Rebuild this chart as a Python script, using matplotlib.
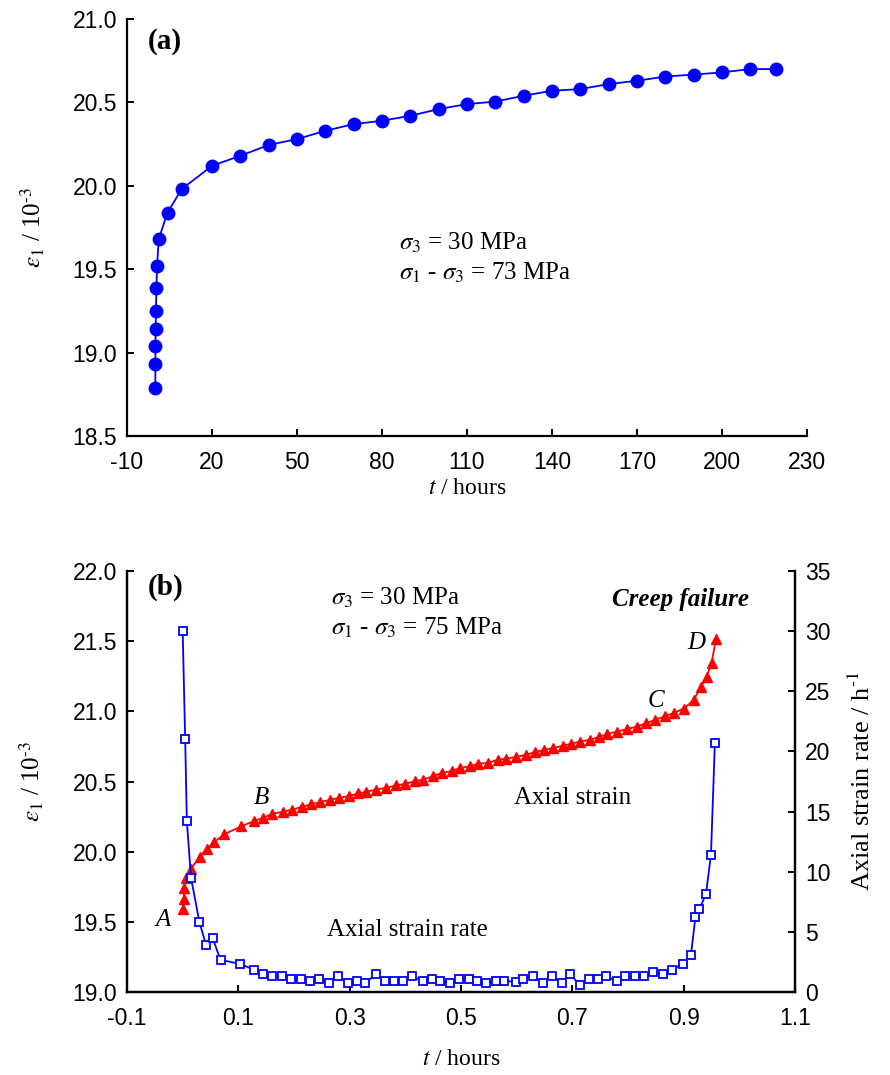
import matplotlib
matplotlib.use('Agg')
import matplotlib.pyplot as plt

plt.rcParams['font.family'] = 'serif'
plt.rcParams['font.serif'] = ['Liberation Serif', 'DejaVu Serif']
plt.rcParams['mathtext.fontset'] = 'stix'

# (a) creep test, sigma1 - sigma3 = 73 MPa
t_a = [0, 0.02, 0.05, 0.1, 0.2, 0.4, 0.6, 1.2, 4.3, 9.3, 20, 30, 40, 50, 60, 70,
       80, 90, 100, 110, 120, 130, 140, 150, 160, 170, 180, 190, 200, 210, 219]
eps_a = [18.79, 18.93, 19.04, 19.14, 19.25, 19.39, 19.52, 19.68, 19.84, 19.98,
         20.12, 20.18, 20.245, 20.28, 20.33, 20.37, 20.39, 20.42, 20.46, 20.49,
         20.505, 20.54, 20.57, 20.58, 20.61, 20.63, 20.655, 20.667, 20.68, 20.70, 20.70]

# (b) creep failure, sigma1 - sigma3 = 75 MPa
t_b = [0.0, 0.002, 0.003, 0.006, 0.015, 0.031, 0.043, 0.057, 0.075, 0.105,
       0.129, 0.144, 0.161, 0.180, 0.197, 0.215, 0.231, 0.247, 0.264, 0.281,
       0.298, 0.315, 0.330, 0.348, 0.365, 0.384, 0.399, 0.417, 0.432, 0.450,
       0.465, 0.483, 0.498, 0.516, 0.531, 0.548, 0.566, 0.581, 0.599, 0.616,
       0.632, 0.649, 0.665, 0.683, 0.698, 0.714, 0.731, 0.747, 0.763, 0.781,
       0.798, 0.816, 0.832, 0.849, 0.867, 0.883, 0.900, 0.918, 0.931, 0.941,
       0.950, 0.958]
eps_b = [19.59, 19.665, 19.74, 19.81, 19.88, 19.965, 20.02, 20.07, 20.125, 20.18,
         20.22, 20.24, 20.27, 20.285, 20.30, 20.32, 20.337, 20.354, 20.368, 20.384,
         20.396, 20.415, 20.427, 20.443, 20.455, 20.472, 20.483, 20.502, 20.514, 20.538,
         20.561, 20.573, 20.597, 20.608, 20.627, 20.632, 20.656, 20.663, 20.675, 20.69,
         20.708, 20.726, 20.738, 20.755, 20.769, 20.785, 20.797, 20.816, 20.84, 20.856,
         20.873, 20.892, 20.915, 20.939, 20.967, 20.99, 21.02, 21.08, 21.175, 21.245,
         21.344, 21.517]

t_r = [0.0, 0.0045, 0.0075, 0.015, 0.030, 0.042, 0.054, 0.068, 0.103, 0.129,
       0.145, 0.161, 0.179, 0.195, 0.213, 0.228, 0.245, 0.263, 0.279, 0.297,
       0.314, 0.328, 0.347, 0.363, 0.380, 0.396, 0.412, 0.431, 0.447, 0.462,
       0.480, 0.497, 0.514, 0.528, 0.545, 0.563, 0.578, 0.598, 0.612, 0.629,
       0.647, 0.663, 0.681, 0.696, 0.713, 0.729, 0.746, 0.760, 0.780, 0.795,
       0.813, 0.829, 0.844, 0.862, 0.879, 0.898, 0.913, 0.921, 0.928, 0.940,
       0.949, 0.956]
rate = [30.0, 21.05, 14.2, 9.5, 5.83, 3.9, 4.46, 2.67, 2.34, 1.84,
        1.49, 1.29, 1.29, 1.10, 1.10, 0.94, 1.10, 0.74, 1.29, 0.74,
        0.94, 0.74, 1.49, 0.94, 0.94, 0.94, 1.29, 0.94, 1.10, 0.94,
        0.74, 1.10, 1.10, 0.94, 0.74, 0.94, 0.94, 0.83, 1.10, 1.29,
        0.74, 1.29, 0.74, 1.49, 0.61, 1.10, 1.10, 1.29, 0.94, 1.29,
        1.29, 1.29, 1.65, 1.49, 1.85, 2.34, 3.09, 6.2, 6.89, 8.13,
        11.43, 20.7]

xt_a = list(range(-10, 231, 30))
yt_a = [18.5, 19.0, 19.5, 20.0, 20.5, 21.0]
xt_b = [-0.1, 0.1, 0.3, 0.5, 0.7, 0.9, 1.1]
yt_b = [19.0, 19.5, 20.0, 20.5, 21.0, 21.5, 22.0]
yt_r = [0, 5, 10, 15, 20, 25, 30, 35]

tick_font = dict(family='Liberation Sans', size=16.5)
fs_lab = 17
fs_txt = 18
eps_label = r'$\varepsilon_1$ / 10$^{\text{-3}}$'


def style(ax, sides):
    for s in ['top', 'right', 'left', 'bottom']:
        ax.spines[s].set_visible(s in sides)
        ax.spines[s].set_linewidth(1.6)
    ax.tick_params(direction='in', length=5, width=1.4)
    ax.tick_params(axis='x', pad=11)
    ax.tick_params(axis='y', pad=7)


fig = plt.figure(figsize=(8.9, 10.75), dpi=100)

# ---- panel (a)
ax1 = fig.add_axes([0.1427, 0.5944, 0.7640, 0.3879])
style(ax1, ['left', 'bottom'])
ax1.plot(t_a, eps_a, '-o', color='blue', lw=1.3, ms=9)
ax1.set_xlim(-10, 230)
ax1.set_ylim(18.5, 21.0)
ax1.set_xticks(xt_a)
ax1.set_xticklabels([str(v) for v in xt_a], fontdict=tick_font)
ax1.set_yticks(yt_a)
ax1.set_yticklabels(['%.1f' % v for v in yt_a], fontdict=tick_font)
ax1.set_xlabel(r'$t$ / hours', fontsize=fs_lab)
ax1.xaxis.set_label_coords(0.5, -0.10)
ax1.set_ylabel(eps_label, fontsize=18)
ax1.yaxis.set_label_coords(-0.118, 0.5)
ax1.text(0.031, 0.945, '(a)', transform=ax1.transAxes, fontsize=21,
         fontweight='bold', va='center', ha='left')
ax1.text(86, 19.66, r'$\sigma_3$ = 30 MPa', fontsize=fs_txt, va='center')
ax1.text(86, 19.48, r'$\sigma_1$ - $\sigma_3$ = 73 MPa', fontsize=fs_txt, va='center')

# ---- panel (b)
ax2 = fig.add_axes([0.1427, 0.0772, 0.7506, 0.3916])
style(ax2, ['left', 'bottom', 'right'])
ax2.plot(t_b, eps_b, '-^', color='red', lw=1.3, ms=7.5)
ax2.set_xlim(-0.1, 1.1)
ax2.set_ylim(19.0, 22.0)
ax2.set_xticks(xt_b)
ax2.set_xticklabels(['%.1f' % v for v in xt_b], fontdict=tick_font)
ax2.set_yticks(yt_b)
ax2.set_yticklabels(['%.1f' % v for v in yt_b], fontdict=tick_font)
ax2.set_xlabel(r'$t$ / hours', fontsize=fs_lab)
ax2.xaxis.set_label_coords(0.5, -0.135)
ax2.set_ylabel(eps_label, fontsize=18)
ax2.yaxis.set_label_coords(-0.121, 0.5)

ax3 = ax2.twinx()
style(ax3, ['left', 'bottom', 'right'])
ax3.plot(t_r, rate, '-s', color='blue', lw=1.3, ms=6, mfc='white', mec='blue', mew=1.3)
ax3.set_ylim(0, 35)
ax3.set_yticks(yt_r)
ax3.set_yticklabels([str(v) for v in yt_r], fontdict=tick_font)
ax3.set_ylabel(r'Axial strain rate / h$^{\text{-1}}$', fontsize=19)
ax3.yaxis.set_label_coords(1.08, 0.5)

ax2.text(0.031, 0.962, '(b)', transform=ax2.transAxes, fontsize=21,
         fontweight='bold', va='center', ha='left')
ax2.text(0.266, 21.81, r'$\sigma_3$ = 30 MPa', fontsize=fs_txt, va='center')
ax2.text(0.266, 21.594, r'$\sigma_1$ - $\sigma_3$ = 75 MPa', fontsize=fs_txt, va='center')
ax2.text(0.771, 21.80, 'Creep failure', fontsize=fs_txt, fontweight='bold',
         fontstyle='italic', va='center')
for lab, x, y in [('A', -0.036, 19.513), ('B', 0.142, 20.38),
                  ('C', 0.850, 21.076), ('D', 0.922, 21.487)]:
    ax2.text(x, y, lab, fontsize=fs_txt, fontstyle='italic', ha='center', va='center')
ax2.text(0.701, 20.38, 'Axial strain', fontsize=fs_txt, ha='center', va='center')
ax2.text(0.404, 19.44, 'Axial strain rate', fontsize=fs_txt, ha='center', va='center')

fig.savefig('out.png', dpi=100)
